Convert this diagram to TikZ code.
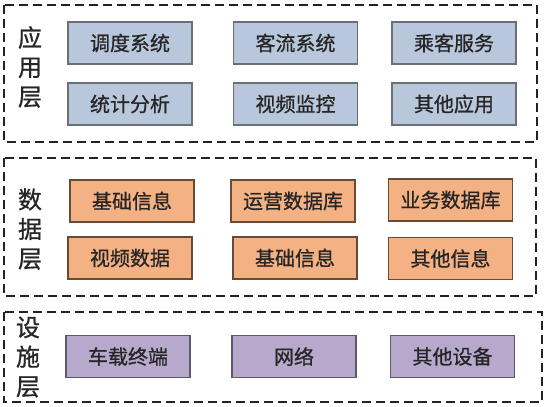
\documentclass[tikz,border=0pt]{standalone}
\usepackage{fontspec}
\setmainfont{Noto Sans CJK SC}[FakeBold=0.8]
\definecolor{appfill}{HTML}{B9C7DC}
\definecolor{appdraw}{HTML}{6A6E75}
\definecolor{datafill}{HTML}{F4B183}
\definecolor{datadraw}{HTML}{6B4A33}
\definecolor{devfill}{HTML}{B7A9CB}
\definecolor{devdraw}{HTML}{5E5868}
\definecolor{dashcol}{HTML}{222222}
\begin{document}
\begin{tikzpicture}[x=1pt,y=-1pt,
  layerbox/.style={draw=dashcol,line width=2pt,dash pattern=on 9pt off 5pt},
  itembox/.style={minimum width=124pt,minimum height=42pt,line width=1.2pt,inner sep=0pt,font=\fontsize{20}{22}\selectfont,text=black!85},
  appitem/.style={itembox,draw=appdraw,fill=appfill},
  dataitem/.style={itembox,draw=datadraw,fill=datafill},
  devitem/.style={itembox,draw=devdraw,fill=devfill},
  layerlabel/.style={align=center,font=\fontsize{24}{29.5}\selectfont,text=black!85,inner sep=0pt}
]
\useasboundingbox (0,0) rectangle (550,407);
\fill[white] (0,0) rectangle (550,407);
% layer frames
\draw[layerbox] (4,5) rectangle (537,142);
\draw[layerbox] (4,158) rectangle (536,296);
\draw[layerbox] (4,312) rectangle (542,402);
% labels
\node[layerlabel] (lapp) at (30,67) {应\\用\\层};
\node[layerlabel] (ldata) at (30,229) {数\\据\\层};
\node[layerlabel] (ldev) at (28,357) {设\\施\\层};
% application layer
\node[appitem] (a1) at (130,43) {调度系统};
\node[appitem] (a2) at (295.5,43) {客流系统};
\node[appitem] (a3) at (454,43) {乘客服务};
\node[appitem] (a4) at (130,104) {统计分析};
\node[appitem] (a5) at (295.5,104) {视频监控};
\node[appitem] (a6) at (454,104) {其他应用};
% data layer
\node[dataitem] (d1) at (132,201) {基础信息};
\node[dataitem] (d2) at (293,201) {运营数据库};
\node[dataitem] (d3) at (450.5,200) {业务数据库};
\node[dataitem] (d4) at (130,258) {视频数据};
\node[dataitem] (d5) at (295,258) {基础信息};
\node[dataitem] (d6) at (450.5,258.5) {其他信息};
% device layer
\node[devitem] (v1) at (128,356.5) {车载终端};
\node[devitem] (v2) at (294,356.5) {网络};
\node[devitem] (v3) at (452.5,356.5) {其他设备};
\end{tikzpicture}
\end{document}
